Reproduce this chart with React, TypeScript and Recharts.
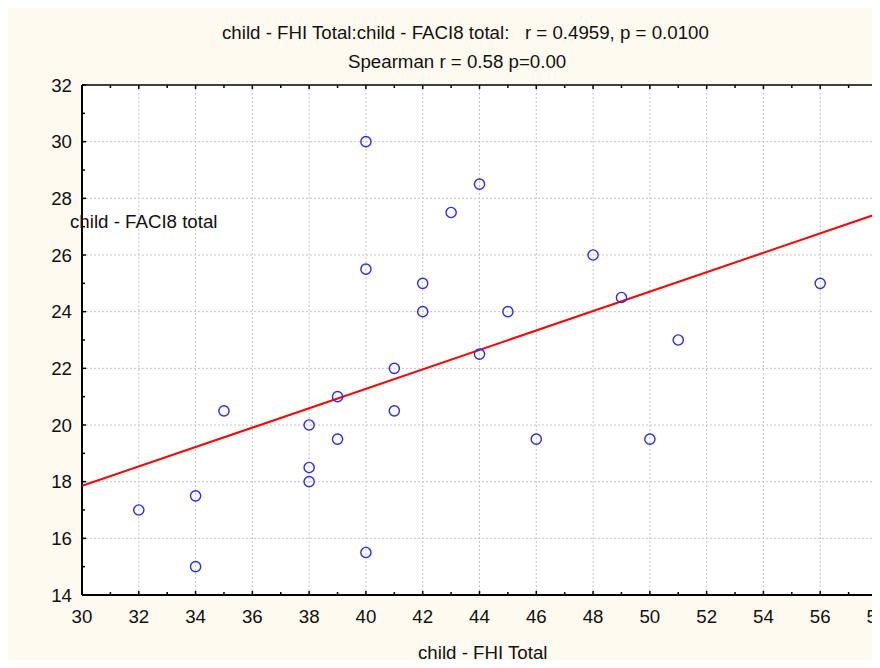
import { ScatterChart, Scatter, XAxis, YAxis, CartesianGrid, ReferenceLine } from "recharts";

// child - FHI Total (x) vs child - FACI8 total (y), one entry per child
const fhiTotal = [32, 34, 34, 35, 38, 38, 38, 39, 39, 40, 40, 40, 41, 41, 42, 42, 43, 44, 44, 45, 46, 48, 49, 50, 51, 56];
const faciTotal = [17, 17.5, 15, 20.5, 20, 18.5, 18, 21, 19.5, 30, 25.5, 15.5, 22, 20.5, 25, 24, 27.5, 28.5, 22.5, 24, 19.5, 26, 24.5, 19.5, 23, 25];

// fitted line, end points
const fitX = [30, 58];
const fitY = [17.85, 27.45];

const xTicks = [30, 31, 32, 33, 34, 35, 36, 37, 38, 39, 40, 41, 42, 43, 44, 45, 46, 47, 48, 49, 50, 51, 52, 53, 54, 55, 56, 57, 58];
const yTicks = [14, 15, 16, 17, 18, 19, 20, 21, 22, 23, 24, 25, 26, 27, 28, 29, 30, 31, 32];
const xGrid = [32, 34, 36, 38, 40, 42, 44, 46, 48, 50, 52, 54, 56];
const yGrid = [16, 18, 20, 22, 24, 26, 28, 30];

const points = fhiTotal.map((x, i) => ({ x, y: faciTotal[i] }));
const fit = fitX.map((x, i) => ({ x, y: fitY[i] }));

// the chart runs to the window's right edge; keep scrollbars out of the way
if (typeof document !== "undefined") document.documentElement.style.overflow = "hidden";

const W = 872;
const H = 660;
const FS = 18.7;
const FONT = "'Liberation Sans', Arial, sans-serif";
const TXT: React.CSSProperties = {
  position: "absolute", fontSize: `${FS}px`, lineHeight: "19px", color: "#111", whiteSpace: "pre",
};

const isMajor = (v: number) => v % 2 === 0;

// axes have width/height 1 so the tick x/y lands on the frame line itself
function BottomTick({ x, y, payload }: any) {
  const v = payload.value;
  return (
    <g>
      <line x1={x} x2={x} y1={y} y2={y - (isMajor(v) ? 4 : 3)} stroke="#000" strokeWidth={1.5} />
      {isMajor(v) && (
        <text x={x} y={y + 28} textAnchor="middle" fontSize={FS} fontFamily={FONT} fill="#111">{v}</text>
      )}
    </g>
  );
}

function TopTick({ x, y, payload }: any) {
  const v = payload.value;
  return <line x1={x} x2={x} y1={y} y2={y + (isMajor(v) ? 4 : 3)} stroke="#000" strokeWidth={1.5} />;
}

function LeftTick({ x, y, payload }: any) {
  const v = payload.value;
  return (
    <g>
      <line x1={x} x2={x + (isMajor(v) ? 4 : 3)} y1={y} y2={y} stroke="#000" strokeWidth={1.5} />
      {isMajor(v) && (
        <text x={x - 10} y={y + 6.5} textAnchor="end" fontSize={FS} fontFamily={FONT} fill="#111">{v}</text>
      )}
    </g>
  );
}

function RightTick({ x, y, payload }: any) {
  const v = payload.value;
  return <line x1={x} x2={x - (isMajor(v) ? 4 : 3)} y1={y} y2={y} stroke="#000" strokeWidth={1.5} />;
}

function Ring({ cx, cy }: any) {
  return <circle cx={cx} cy={cy} r={5.1} fill="none" stroke="#2a2aff" strokeWidth={1.4} />;
}

export default function App() {
  return (
    <div style={{ position: "relative", width: W, height: H, marginBottom: -8, background: "#fffaef", fontFamily: FONT }}>
      <ScatterChart width={W} height={H} margin={{ top: 76, right: 2, bottom: 72, left: 73 }}>
        <CartesianGrid fill="#fff" horizontal={false} vertical={false} />
        {xGrid.map((v) => (
          <ReferenceLine key={`gx${v}`} x={v} stroke="#c4c4c4" strokeDasharray="2 2" />
        ))}
        {yGrid.map((v) => (
          <ReferenceLine key={`gy${v}`} y={v} stroke="#c4c4c4" strokeDasharray="2 2" />
        ))}
        <XAxis type="number" dataKey="x" domain={[30, 58]} ticks={xTicks} interval={0} allowDataOverflow
               height={1} tickSize={0} tickMargin={0} tickLine={false} tick={BottomTick}
               axisLine={{ stroke: "#000", strokeWidth: 2 }} />
        <XAxis xAxisId="top" orientation="top" type="number" dataKey="x" domain={[30, 58]} ticks={xTicks} interval={0}
               allowDataOverflow height={1} tickSize={0} tickMargin={0} tickLine={false} tick={TopTick}
               axisLine={{ stroke: "#000", strokeWidth: 1.5 }} />
        <YAxis type="number" dataKey="y" domain={[14, 32]} ticks={yTicks} interval={0} allowDataOverflow
               width={1} tickSize={0} tickMargin={0} tickLine={false} tick={LeftTick}
               axisLine={{ stroke: "#000", strokeWidth: 2 }} />
        <YAxis yAxisId="right" orientation="right" type="number" dataKey="y" domain={[14, 32]} ticks={yTicks} interval={0}
               allowDataOverflow width={1} tickSize={0} tickMargin={0} tickLine={false} tick={RightTick}
               axisLine={{ stroke: "#000", strokeWidth: 2 }} />
        <Scatter data={fit} line={{ stroke: "#ff0000", strokeWidth: 2 }} shape={() => null} isAnimationActive={false} />
        <Scatter data={points} shape={Ring} isAnimationActive={false} />
      </ScatterChart>
      <div style={{ ...TXT, left: 214, top: 15 }}>child - FHI Total:child - FACI8 total:   r = 0.4959, p = 0.0100</div>
      <div style={{ ...TXT, left: 340, top: 44 }}>Spearman r = 0.58 p=0.00</div>
      <div style={{ ...TXT, left: 62, top: 204 }}>child - FACI8 total</div>
      <div style={{ ...TXT, left: 410, top: 635 }}>child - FHI Total</div>
    </div>
  );
}
